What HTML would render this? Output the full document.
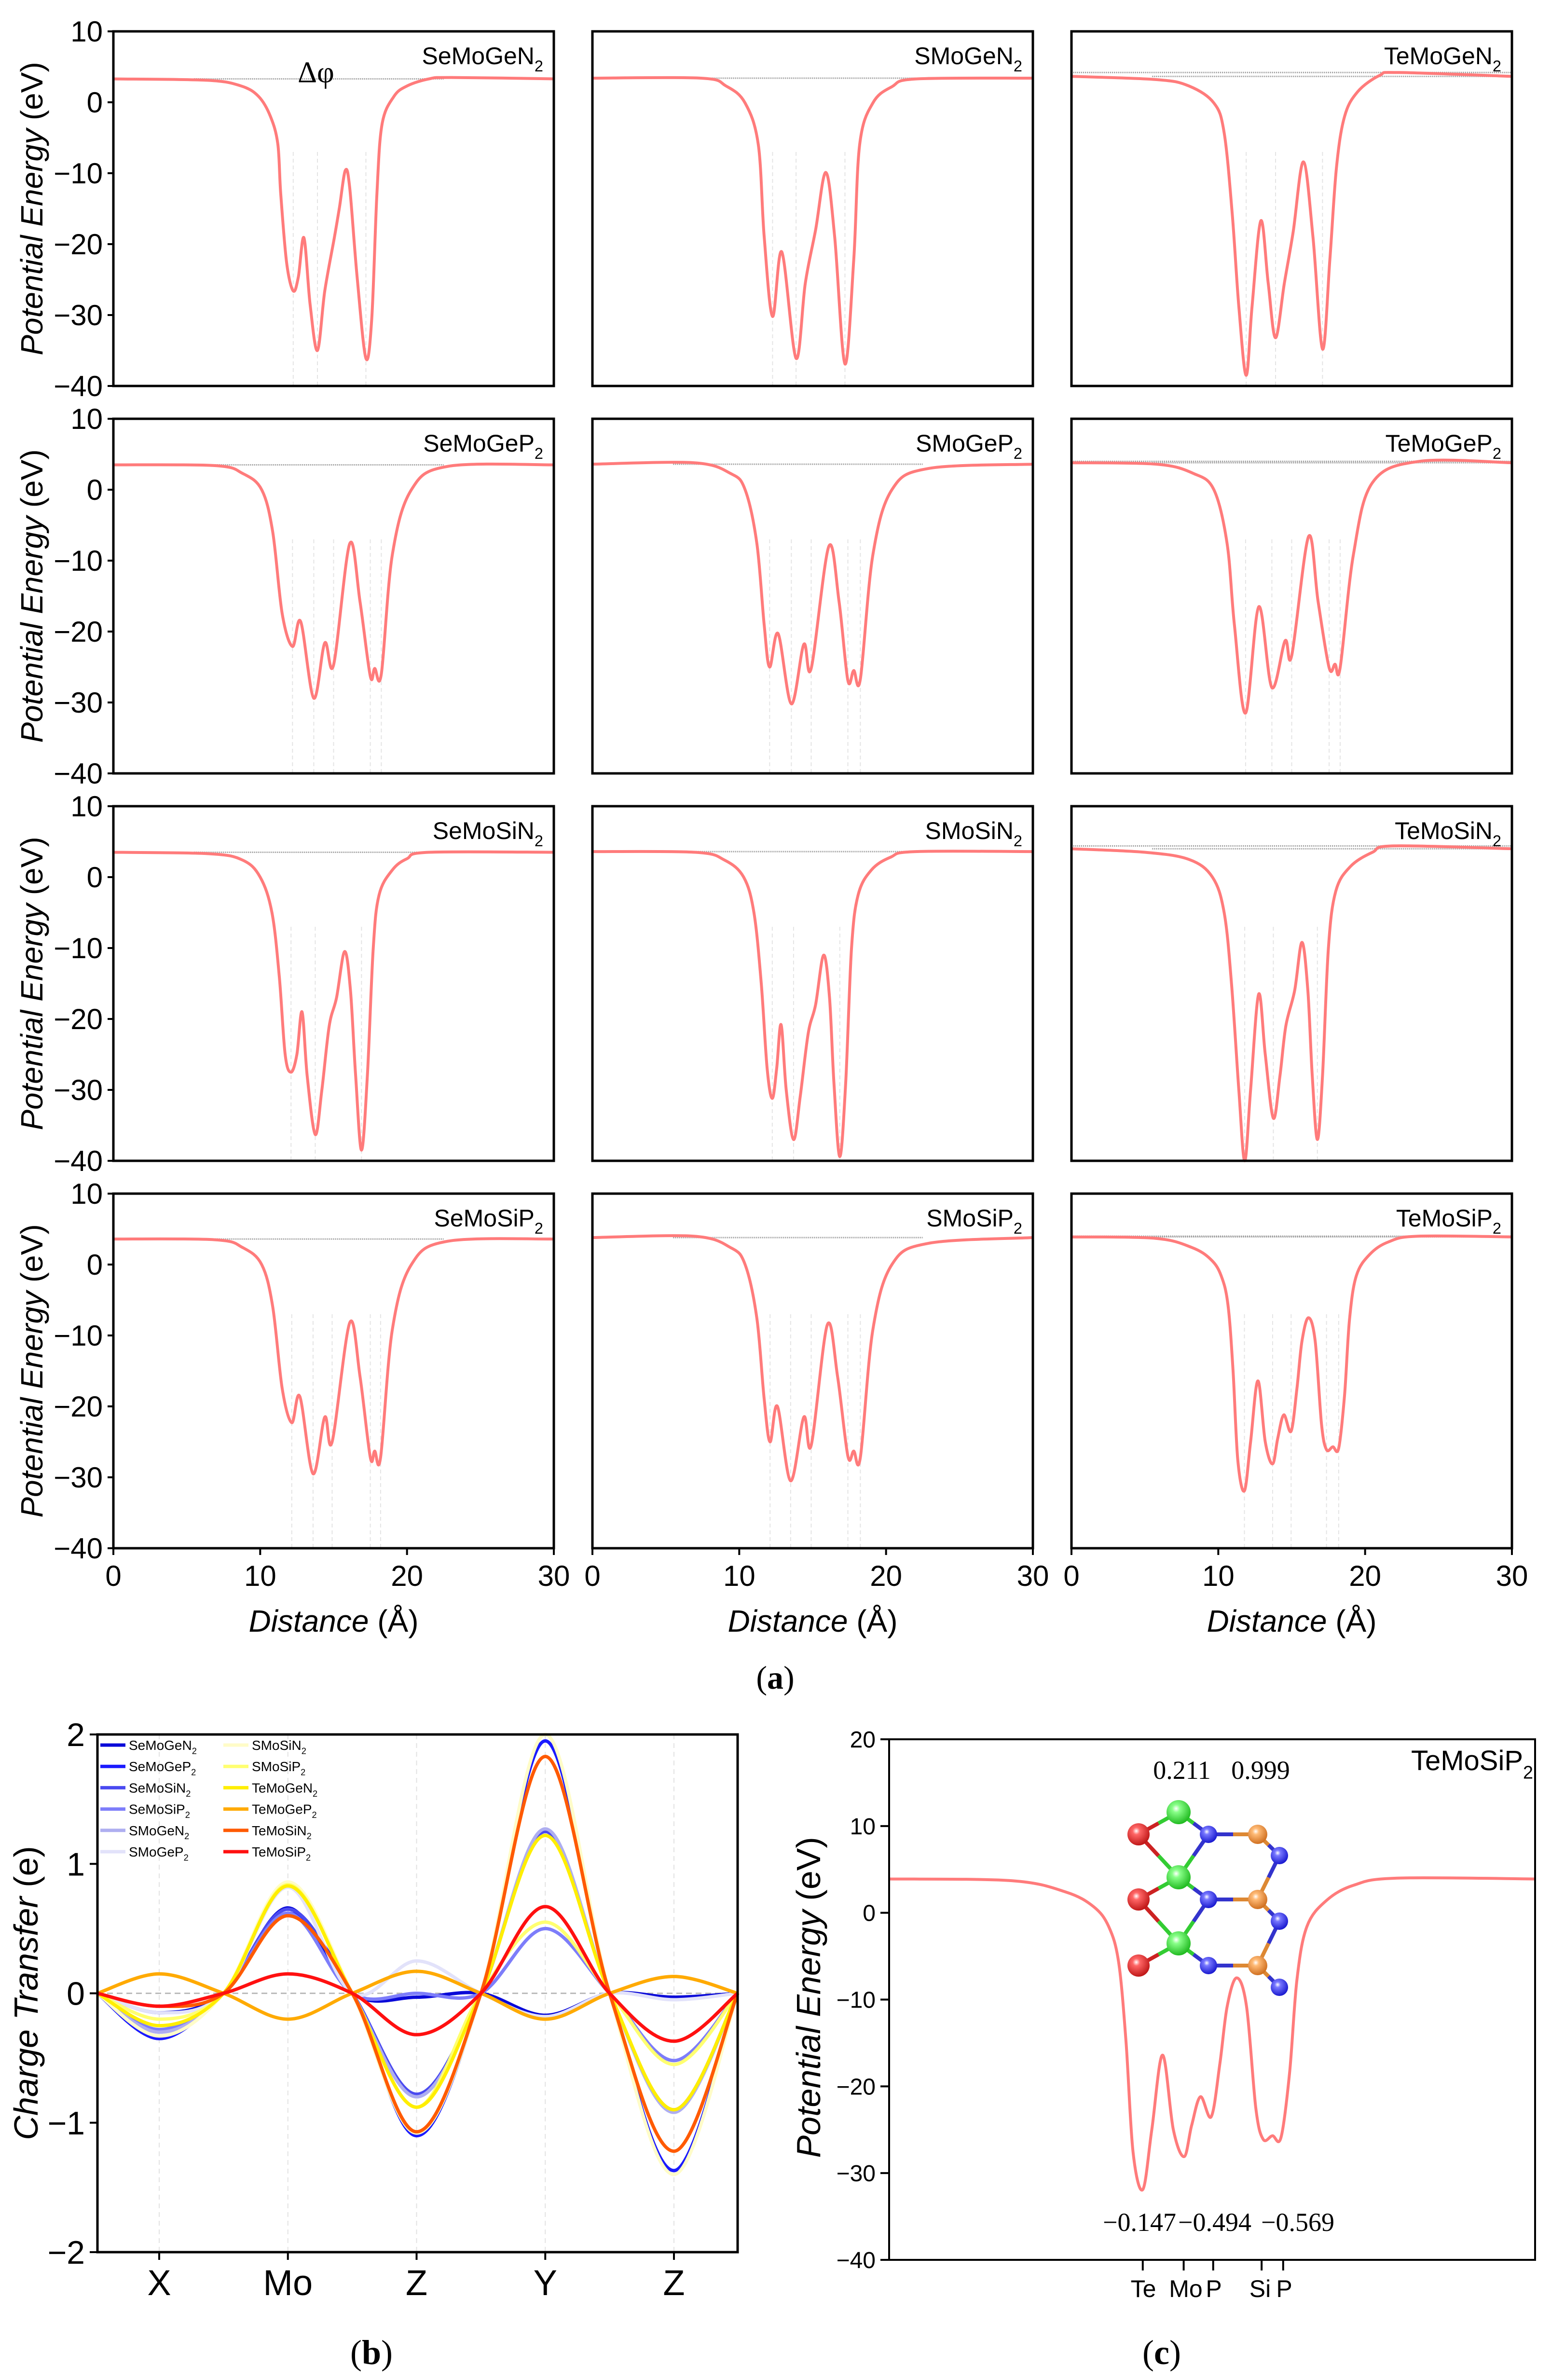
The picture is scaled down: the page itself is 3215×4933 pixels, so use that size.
<!DOCTYPE html>
<html><head><meta charset="utf-8"><style>
html,body{margin:0;padding:0;background:#fff;}
svg{display:block;font-family:"Liberation Sans",sans-serif;}
</style></head><body>
<svg id="fig" xmlns="http://www.w3.org/2000/svg" width="3215" height="4933" viewBox="0 0 3215 4933">
<rect x="0" y="0" width="3215" height="4933" fill="#fff"/>
<g id="panelA"></g>
<g id="panelB"></g>
<g id="panelC"></g>
</svg>
<script>
// ---------- Panel (a) data: distance (Å) and potential energy (eV) ----------
const seMoGeN2X=[0,6.4,8.7,9.9,10.7,11.2,11.4,11.8,12.25,12.6,12.98,13.4,13.9,14.4,15.05,15.4,15.8,16.1,16.6,17.2,17.6,17.95,18.3,19.1,20,21.5,23,30];
const seMoGeN2Y=[3.3,3.1,2.3,0.8,-2,-5.9,-12.9,-22.6,-26.6,-24.6,-19.1,-28.5,-35,-26.6,-19.1,-14.8,-9.6,-12.1,-24.6,-36.1,-30.5,-12.9,-3.1,0.8,2.3,3.3,3.5,3.3];
const sMoGeN2X=[0,7.4,9.1,10.4,11.3,11.7,12.27,12.9,13.87,14.5,15.2,15.9,16.5,17.2,17.8,18.2,19.1,20.4,22.1,30];
const sMoGeN2Y=[3.4,3.4,2.3,-0.1,-6,-19,-30.2,-21.1,-36.1,-25.5,-18,-9.9,-19,-36.9,-22.2,-6,-0.1,2.2,3.3,3.4];
const teMoGeN2X=[0,5.8,8,9.7,10.4,10.95,11.4,11.9,12.3,12.9,13.4,13.9,14.5,15.1,15.8,16.45,17.1,17.6,18.05,18.6,19.5,21,22.3,30];
const teMoGeN2Y=[3.65,3.2,2.3,-0.1,-4.3,-15.7,-28.8,-38.5,-28.8,-16.7,-25.5,-33.2,-25.5,-18.3,-8.4,-19,-34.8,-22.2,-9.2,-2,1.5,3.8,4.2,3.65];
const seMoGeP2X=[0,6.9,8.8,10.1,10.85,11.5,12.2,12.76,13.65,14.4,15,16.1,16.8,17.5,17.8,18.25,19,20.3,22.8,30];
const seMoGeP2Y=[3.5,3.4,2.3,0,-5.9,-17.5,-22.1,-18.6,-29.4,-21.6,-24.7,-7.6,-15.8,-26.3,-25.2,-26,-9.2,0,3.3,3.5];
const sMoGeP2X=[0,6.9,9.4,10.4,11.2,11.7,12.07,12.65,13.55,14.4,14.9,16.1,16.8,17.4,17.8,18.25,19.1,20.4,22.9,30];
const sMoGeP2Y=[3.6,3.8,2.3,0,-7.6,-19.1,-25,-20.3,-30.2,-21.8,-25.2,-8,-15.8,-26.9,-25.5,-26.7,-9.2,0,3,3.6];
const teMoGeP2X=[0,5.8,8.3,9.7,10.6,11.1,11.86,12.76,13.65,14.55,15,16.15,16.8,17.55,17.95,18.3,19.2,20.5,23.7,30];
const teMoGeP2Y=[3.8,3.6,2.3,0,-7.6,-19.1,-31.5,-16.5,-27.9,-21.3,-23.4,-6.6,-15.8,-25.1,-24.6,-25.1,-9.2,1,4,3.8];
const seMoSiN2X=[0,6.5,8.8,10,10.8,11.3,11.7,12.1,12.5,12.85,13.2,13.75,14.2,14.7,15.2,15.75,16.15,16.5,16.9,17.3,17.7,18.1,19,20,21.5,30];
const seMoSiN2Y=[3.5,3.3,2.4,0,-5,-14,-25,-27.5,-25,-19,-28,-36.3,-30,-21,-17,-10.5,-16,-28,-38.5,-28,-10,-2.5,1,2.6,3.5,3.5];
const sMoSiN2X=[0,7,9,10.3,11,11.5,11.9,12.25,12.55,12.85,13.2,13.7,14.15,14.7,15.2,15.75,16.15,16.45,16.85,17.25,17.65,18.1,19,20.3,22,30];
const sMoSiN2Y=[3.6,3.5,2.4,0,-5,-15,-27,-31.2,-27,-20.8,-30,-37,-31,-22,-18,-11,-17,-29,-39.4,-29,-10,-2.5,1,2.8,3.6,3.6];
const teMoSiN2X=[0,5,8,9.6,10.4,10.9,11.4,11.8,12.2,12.75,13.2,13.75,14.2,14.6,15.2,15.7,16.1,16.4,16.75,17.1,17.5,18,19,20.5,22,30];
const teMoSiN2Y=[4,3.5,2.5,0,-5,-15,-30,-40,-30,-16.5,-25,-34,-28,-21,-16,-9.2,-16,-28,-37,-28,-10,-2,1.5,3.5,4.4,4];
const seMoSiP2X=[0,6.9,8.8,10.1,10.85,11.5,12.15,12.7,13.6,14.4,14.9,16.1,16.8,17.5,17.8,18.2,19,20.3,22.8,30];
const seMoSiP2Y=[3.6,3.5,2.4,0,-5.9,-17.5,-22.3,-18.6,-29.5,-21.5,-25,-8.2,-15.8,-27.2,-26.3,-27.2,-9.2,0,3.3,3.6];
const sMoSiP2X=[0,6.9,9.4,10.4,11.2,11.7,12.1,12.6,13.5,14.4,14.9,16,16.7,17.4,17.8,18.25,19.1,20.4,22.9,30];
const sMoSiP2Y=[3.8,4,2.4,0,-7.6,-19,-25,-20,-30.5,-21.5,-25.5,-8.5,-15.8,-27,-26.3,-27.2,-9.2,0,3,3.8];
const teMoSiP2X=[0,5.7,8.2,9.5,10.2,10.66,11,11.33,11.78,12.2,12.7,13.2,13.7,14.05,14.46,14.96,15.36,15.7,16.14,16.6,17.03,17.37,17.8,18.2,18.6,18.94,19.4,20.3,21.6,23.6,30];
const teMoSiP2Y=[3.9,3.7,2.4,0.7,-1.6,-5.7,-14.8,-27.6,-31.9,-25,-16.4,-25,-28.1,-24.5,-21.2,-23.5,-17.4,-10.8,-7.5,-10.8,-22.5,-26.1,-25.7,-25.9,-18.4,-7.7,-1.6,1.4,3.2,4,3.9];
const panelNames=["SeMoGeN","SMoGeN","TeMoGeN","SeMoGeP","SMoGeP","TeMoGeP","SeMoSiN","SMoSiN","TeMoSiN","SeMoSiP","SMoSiP","TeMoSiP"];
const panelXs=[seMoGeN2X,sMoGeN2X,teMoGeN2X,seMoGeP2X,sMoGeP2X,teMoGeP2X,seMoSiN2X,sMoSiN2X,teMoSiN2X,seMoSiP2X,sMoSiP2X,teMoSiP2X];
const panelYs=[seMoGeN2Y,sMoGeN2Y,teMoGeN2Y,seMoGeP2Y,sMoGeP2Y,teMoGeP2Y,seMoSiN2Y,sMoSiN2Y,teMoSiN2Y,seMoSiP2Y,sMoSiP2Y,teMoSiP2Y];
const aYTicks=[10,0,-10,-20,-30,-40];
const aXTicks=[0,10,20,30];

// ---------- Panel (b) data ----------
const bCategories=["X","Mo","Z","Y","Z"];
const bSeriesNames=["SeMoGeN","SeMoGeP","SeMoSiN","SeMoSiP","SMoGeN","SMoGeP","SMoSiN","SMoSiP","TeMoGeN","TeMoGeP","TeMoSiN","TeMoSiP"];
const bSeMoGeN2=[-0.15,0.66,-0.03,-0.17,-0.03];
const bSeMoGeP2=[-0.35,0.62,-1.1,1.95,-1.37];
const bSeMoSiN2=[-0.3,0.65,-0.78,1.25,-0.9];
const bSeMoSiP2=[-0.28,0.62,0.0,0.5,-0.52];
const bSMoGeN2=[-0.3,0.85,-0.8,1.27,-0.92];
const bSMoGeP2=[-0.15,0.82,0.25,-0.18,-0.05];
const bSMoSiN2=[-0.33,0.86,-1.08,2.0,-1.4];
const bSMoSiP2=[-0.2,0.84,-0.88,0.55,-0.55];
const bTeMoGeN2=[-0.25,0.83,-0.88,1.22,-0.9];
const bTeMoGeP2=[0.15,-0.2,0.17,-0.2,0.13];
const bTeMoSiN2=[-0.1,0.6,-1.07,1.83,-1.22];
const bTeMoSiP2=[-0.1,0.15,-0.32,0.67,-0.37];
const bSeriesValues=[bSeMoGeN2,bSeMoGeP2,bSeMoSiN2,bSeMoSiP2,bSMoGeN2,bSMoGeP2,bSMoSiN2,bSMoSiP2,bTeMoGeN2,bTeMoGeP2,bTeMoSiN2,bTeMoSiP2];
const bColors=["#0a0ad8","#1a1aff","#4a4af0","#7d7dfa","#aeaef0","#e2e2fa","#fffcc8","#ffff70","#ffee00","#ffaa00","#ff5a00","#ff1010"];
const bYTicks=[2,1,0,-1,-2];

// ---------- Panel (c) data ----------
const cAtomLabels=["Te","Mo","P","Si","P"];
const cAtomPos=[11.78,13.68,15.05,17.3,18.3];
const cTopCharges=["0.211","0.999"];
const cBottomCharges=["\u22120.147","\u22120.494","\u22120.569"];
const cYTicks=[20,10,0,-10,-20,-30,-40];

const NS="http://www.w3.org/2000/svg";
function mk(tag,attrs,parent){const e=document.createElementNS(NS,tag);for(const k in attrs)e.setAttribute(k,attrs[k]);if(parent)parent.appendChild(e);return e;}
function spline(pts){
  let d="M"+pts[0][0].toFixed(1)+","+pts[0][1].toFixed(1);
  for(let i=0;i<pts.length-1;i++){
    const p0=pts[Math.max(0,i-1)],p1=pts[i],p2=pts[i+1],p3=pts[Math.min(pts.length-1,i+2)];
    const c1x=p1[0]+(p2[0]-p0[0])/6,c1y=p1[1]+(p2[1]-p0[1])/6;
    const c2x=p2[0]-(p3[0]-p1[0])/6,c2y=p2[1]-(p3[1]-p1[1])/6;
    d+=" C"+c1x.toFixed(1)+","+c1y.toFixed(1)+" "+c2x.toFixed(1)+","+c2y.toFixed(1)+" "+p2[0].toFixed(1)+","+p2[1].toFixed(1);
  }
  return d;
}
function formula(parent,x,y,base,size,anchor,name,family,weight){
  const t=mk("text",{x:x,y:y,"font-size":size,"text-anchor":anchor,fill:"#000"},parent);
  if(family)t.setAttribute("font-family",family);
  if(weight)t.setAttribute("font-weight",weight);
  
  
  const s1=mk("tspan",{},t);s1.textContent=base;
  const s2=mk("tspan",{dy:size*0.3,"font-size":size*0.65},t);s2.textContent="2";
  return t;
}
function minus(v){return v<0?"\u2212"+Math.abs(v):String(v);}

// ---------- Draw panel (a) ----------
const gA=document.getElementById("panelA");
const rowTops=[65,868,1671,2474],colLefts=[235,1228,2221],PW=913,PH=735;
panelNames.forEach((nm,i)=>{
  const r=Math.floor(i/3),c=i%3,L=colLefts[c],T=rowTops[r];
  const sx=v=>L+v/30*PW, sy=v=>T+(10-v)/50*PH;
  const g=mk("g",{},gA);
  
  
  const xs=panelXs[i],ys=panelYs[i];
  // atom guide lines at local minima
  for(let k=1;k<ys.length-1;k++){
    if(ys[k]<ys[k-1]&&ys[k]<ys[k+1]&&ys[k]<-15){
      const ln=mk("line",{x1:sx(xs[k]),x2:sx(xs[k]),y1:T+250,y2:T+PH,stroke:"#e4e4e4","stroke-width":2,"stroke-dasharray":"8,6"},g);
      
      
    }
  }
  const vac=mk("line",{x1:sx(5.5),x2:sx(c===2?30:22.5),y1:sy(ys[0]),y2:sy(ys[0]),stroke:"#999","stroke-width":3,"stroke-dasharray":"2,2"},g);
  
  
  if(c===2){
    const vr=mk("line",{x1:sx(0),x2:sx(30),y1:sy(Math.max(...ys.slice(-4))),y2:sy(Math.max(...ys.slice(-4))),stroke:"#999","stroke-width":3,"stroke-dasharray":"2,2"},g);
    
    
  }
  const pts=xs.map((x,k)=>[sx(x),sy(ys[k])]);
  const p=mk("path",{d:spline(pts),fill:"none",stroke:"#ff7b7b","stroke-width":6,"stroke-linejoin":"round"},g);
  
  
  const fr=mk("rect",{x:L,y:T,width:PW,height:PH,fill:"none",stroke:"#000","stroke-width":5},g);
  
  
  formula(g,L+PW-22,T+68,nm,50,"end","panel-title");
  if(c===0){
    aYTicks.forEach(v=>{
      const tk=mk("line",{x1:L-12,x2:L,y1:sy(v),y2:sy(v),stroke:"#000","stroke-width":4},g);
      
      
      const tl=mk("text",{x:L-22,y:sy(v)+21,"font-size":60,"text-anchor":"end"},g);
      tl.textContent=minus(v);
      
      
    });
    const yt=mk("text",{x:0,y:0,"font-size":64,"text-anchor":"middle",transform:"translate(88,"+(T+PH/2)+") rotate(-90)"},g);
    yt.innerHTML='<tspan font-style="italic">Potential Energy</tspan> (eV)';
    
    
  }
  if(r===3){
    aXTicks.forEach(v=>{
      const tk=mk("line",{x1:sx(v),x2:sx(v),y1:T+PH,y2:T+PH+14,stroke:"#000","stroke-width":4},g);
      
      
      const tl=mk("text",{x:sx(v),y:T+PH+78,"font-size":60,"text-anchor":"middle"},g);
      tl.textContent=String(v);
      
      
    });
    const xt=mk("text",{x:L+PW/2,y:3382,"font-size":64,"text-anchor":"middle"},g);
    xt.innerHTML='<tspan font-style="italic">Distance</tspan> (Å)';
    
    
  }
  if(i===0){
    const dp=mk("text",{x:sx(13.8),y:sy(3.9)+16,"font-size":62,"font-family":"Liberation Serif, serif","text-anchor":"middle"},g);
    dp.textContent="Δφ";
    
    
  }
});
const la=mk("text",{x:1607,y:3500,"font-size":68,"font-family":"Liberation Serif, serif","text-anchor":"middle"},gA);
la.innerHTML='(<tspan font-weight="bold">a</tspan>)';



// ---------- Draw panel (b) ----------
const gB=document.getElementById("panelB");
const BL=202,BR=1529,BT=3595,BB=4668,bx0=330,bstep=266.75;
const bx=v=>bx0+v*bstep, by=v=>BT+(2-v)/4*(BB-BT);
bCategories.forEach((cat,k)=>{
  const gl=mk("line",{x1:bx(k),x2:bx(k),y1:BT,y2:BB,stroke:"#e2e2e2","stroke-width":2,"stroke-dasharray":"10,8"},gB);
  
  
});
const zl=mk("line",{x1:BL,x2:BR,y1:by(0),y2:by(0),stroke:"#bbb","stroke-width":3,"stroke-dasharray":"12,8"},gB);


const bLeft=(BL-bx0)/bstep, bRight=(BR-bx0)/bstep;
bSeriesValues.forEach((vals,s)=>{
  const pts=[[bx(bLeft),by(0)]];
  vals.forEach((v,k)=>{
    pts.push([bx(k),by(v)]);
    if(k<vals.length-1)pts.push([bx(k+0.5),by(0)]);
  });
  pts.push([bx(bRight),by(0)]);
  const p=mk("path",{d:spline(pts),fill:"none",stroke:bColors[s],"stroke-width":7},gB);
  
  
});
const bf=mk("rect",{x:BL,y:BT,width:BR-BL,height:BB-BT,fill:"none",stroke:"#000","stroke-width":5},gB);


bYTicks.forEach(v=>{
  const tk=mk("line",{x1:BL-16,x2:BL,y1:by(v),y2:by(v),stroke:"#000","stroke-width":4},gB);
  
  
  const tl=mk("text",{x:BL-26,y:by(v)+24,"font-size":68,"text-anchor":"end"},gB);
  tl.textContent=minus(v);
  
  
});
bCategories.forEach((cat,k)=>{
  const tk=mk("line",{x1:bx(k),x2:bx(k),y1:BB,y2:BB+16,stroke:"#000","stroke-width":4},gB);
  
  
  const tl=mk("text",{x:bx(k),y:4757,"font-size":74,"text-anchor":"middle"},gB);
  tl.textContent=cat;
  
  
});
const byt=mk("text",{x:0,y:0,"font-size":70,"text-anchor":"middle",transform:"translate(78,4131) rotate(-90)"},gB);
byt.innerHTML='<tspan font-style="italic">Charge Transfer</tspan> (e)';


bSeriesNames.forEach((nm,s)=>{
  const col=Math.floor(s/6),row=s%6;
  const lx=col?463:208, ly=3617+row*44.2;
  const ll=mk("line",{x1:lx,x2:lx+52,y1:ly,y2:ly,stroke:bColors[s],"stroke-width":7},gB);
  
  
  formula(gB,lx+59,ly+10,nm,28,"start","legend-entry");
});
const lb=mk("text",{x:770,y:4900,"font-size":72,"font-family":"Liberation Serif, serif","text-anchor":"middle"},gB);
lb.innerHTML='(<tspan font-weight="bold">b</tspan>)';



// ---------- Draw panel (c) ----------
const gC=document.getElementById("panelC");
const CL=1843,CR=3182,CT=3605,CB=4684;
const cx=v=>CL+v/30*(CR-CL), cy=v=>CT+(20-v)/60*(CB-CT);
const cp=mk("path",{d:spline(teMoSiP2X.map((x,k)=>[cx(x),cy(teMoSiP2Y[k])])),fill:"none",stroke:"#ff7b7b","stroke-width":6},gC);


const cf=mk("rect",{x:CL,y:CT,width:CR-CL,height:CB-CT,fill:"none",stroke:"#000","stroke-width":4},gC);


cYTicks.forEach(v=>{
  const tk=mk("line",{x1:CL-18,x2:CL,y1:cy(v),y2:cy(v),stroke:"#000","stroke-width":4},gC);
  
  
  const tl=mk("text",{x:CL-28,y:cy(v)+17,"font-size":48,"text-anchor":"end"},gC);
  tl.textContent=minus(v);
  
  
});
cAtomLabels.forEach((a,k)=>{
  const tk=mk("line",{x1:cx(cAtomPos[k]),x2:cx(cAtomPos[k]),y1:CB,y2:CB+22,stroke:"#000","stroke-width":4},gC);
  
  
});
const atomLabelX=[2370,2458,2516,2612,2662];
cAtomLabels.forEach((a,k)=>{
  const tl=mk("text",{x:atomLabelX[k],y:4761,"font-size":50,"text-anchor":"middle"},gC);
  tl.textContent=a;
  
  
});
const cyt=mk("text",{x:0,y:0,"font-size":70,"text-anchor":"middle",transform:"translate(1700,4140) rotate(-90)"},gC);
cyt.innerHTML='<tspan font-style="italic">Potential Energy</tspan> (eV)';


formula(gC,3178,3669,"TeMoSiP",58,"end","panel-title");
[2450,2613].forEach((x,k)=>{
  const t=mk("text",{x:x,y:3687,"font-size":54,"font-family":"Liberation Serif, serif","text-anchor":"middle"},gC);
  t.textContent=cTopCharges[k];
  
  
});
[2362,2518,2690].forEach((x,k)=>{
  const t=mk("text",{x:x,y:4624,"font-size":54,"font-family":"Liberation Serif, serif","text-anchor":"middle"},gC);
  t.textContent=cBottomCharges[k];
  
  
});
// molecule inset
const mol=mk("g",{},gC);


const Te=[[2360,3802],[2360,3937],[2360,4074]],Mo=[[2443,3756],[2443,3891],[2443,4028]],P1=[[2505,3802],[2505,3937],[2505,4074]],Si=[[2607,3802],[2607,3937],[2607,4074]],P2=[[2652,3846],[2652,3982],[2652,4119]];
function bond(a,b,ca,cb){
  const mx=(a[0]+b[0])/2,my=(a[1]+b[1])/2;
  const b1=mk("line",{x1:a[0],y1:a[1],x2:mx,y2:my,stroke:ca,"stroke-width":8},mol);
  
  
  const b2=mk("line",{x1:mx,y1:my,x2:b[0],y2:b[1],stroke:cb,"stroke-width":8},mol);
  
  
}
for(let k=0;k<3;k++){
  bond(Te[k],Mo[k],"#cc2222","#33cc33");
  if(k<2)bond(Te[k],Mo[k+1],"#cc2222","#33cc33");
  bond(Mo[k],P1[k],"#33cc33","#3333cc");
  if(k<2)bond(Mo[k+1],P1[k],"#33cc33","#3333cc");
  bond(P1[k],Si[k],"#3333cc","#dd8833");
  bond(Si[k],P2[k],"#dd8833","#3333cc");
  if(k<2)bond(P2[k],Si[k+1],"#3333cc","#dd8833");
}
const defs=mk("defs",{},mol);
[["gTe","#ff6666","#c01818"],["gMo","#88ff88","#22bb22"],["gP","#7777ff","#1a1ad0"],["gSi","#ffbb77","#d07020"]].forEach(d=>{
  const rg=mk("radialGradient",{id:d[0],cx:"0.4",cy:"0.35",r:"0.65"},defs);
  mk("stop",{offset:"0",  "stop-color":"#ffffff"},rg);
  mk("stop",{offset:"0.25","stop-color":d[1]},rg);
  mk("stop",{offset:"1","stop-color":d[2]},rg);
});
function atom(p,r,g,name){const c=mk("circle",{cx:p[0],cy:p[1],r:r,fill:"url(#"+g+")"},mol);}
Te.forEach(p=>atom(p,23,"gTe","atom-te"));
Mo.forEach(p=>atom(p,25,"gMo","atom-mo"));
P1.forEach(p=>atom(p,18,"gP","atom-p"));
Si.forEach(p=>atom(p,20,"gSi","atom-si"));
P2.forEach(p=>atom(p,18,"gP","atom-p"));
const lc=mk("text",{x:2408,y:4900,"font-size":72,"font-family":"Liberation Serif, serif","text-anchor":"middle"},gC);
lc.innerHTML='(<tspan font-weight="bold">c</tspan>)';


</script>
</body></html>
